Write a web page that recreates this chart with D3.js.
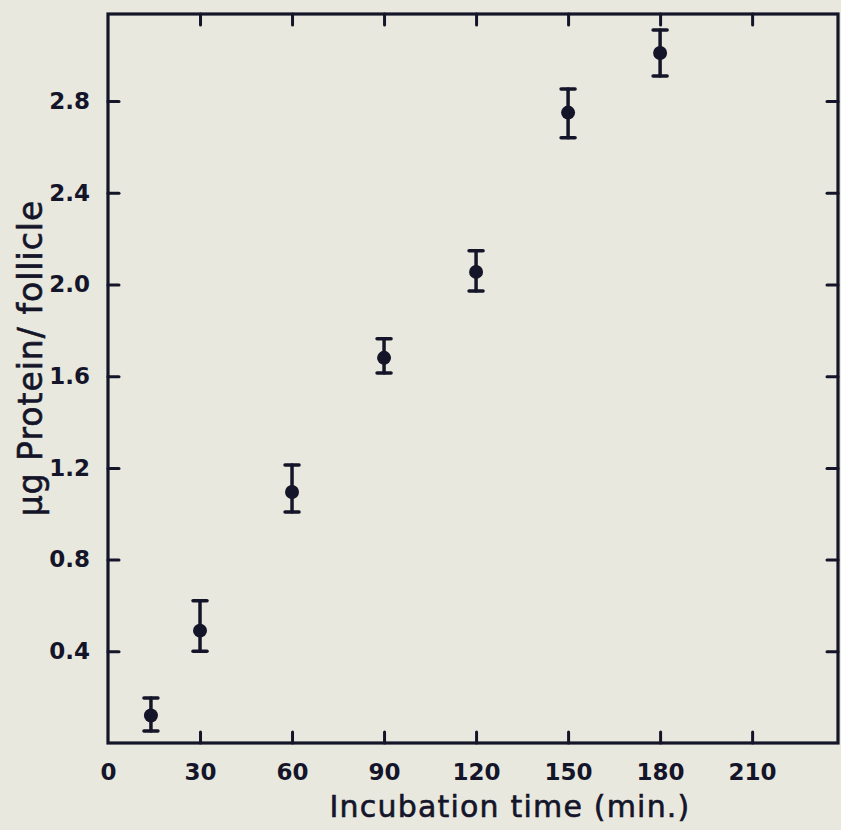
<!DOCTYPE html>
<html>
<head>
<meta charset="utf-8">
<script src="https://cdn.jsdelivr.net/npm/d3@7"></script>
<style>
  html, body { margin: 0; padding: 0; background: #e9e8df; }
  svg { display: block; }
  text { font-family: "DejaVu Sans", sans-serif; fill: #15152a; }
</style>
</head>
<body>
<svg id="chart" width="841" height="830"></svg>
<script>
// ---- data ----
const times     = [14, 30, 60, 90, 120, 150, 180];
const protein   = [0.12, 0.49, 1.095, 1.68, 2.055, 2.75, 3.01];
const errUpper  = [0.196, 0.62, 1.213, 1.763, 2.147, 2.853, 3.11];
const errLower  = [0.052, 0.40, 1.008, 1.614, 1.972, 2.64, 2.91];
const xTicks    = [0, 30, 60, 90, 120, 150, 180, 210];
const yTicks    = [0.4, 0.8, 1.2, 1.6, 2.0, 2.4, 2.8];
const xTitle    = "Incubation time (min.)";
const yTitle    = "\u03BCg Protein/ follicle";

const ink = "#15152a";
const svg = d3.select("#chart");
const pL = 108, pR = 838, pT = 14, pB = 743;
const x = d3.scaleLinear().domain([0, 238]).range([pL, pR]);
const y = d3.scaleLinear().domain([0, 3.18]).range([pB, pT]);

// frame
svg.append("rect")
  .attr("x", pL).attr("y", pT)
  .attr("width", pR - pL).attr("height", pB - pT)
  .attr("fill", "none").attr("stroke", ink).attr("stroke-width", 3.2);

function styleAxis(g) {
  g.select(".domain").remove();
  g.selectAll(".tick line").attr("stroke", ink).attr("stroke-width", 3).attr("stroke-linecap", "round");
  g.selectAll(".tick text").attr("fill", ink)
    .style("font-family", "DejaVu Sans, sans-serif")
    .style("font-weight", "bold").style("font-size", "23px");
}

// bottom axis (ticks inward)
const gx = svg.append("g").attr("transform", `translate(0,${pB})`)
  .call(d3.axisBottom(x).tickValues(xTicks).tickSizeInner(-11).tickSizeOuter(0).tickPadding(21).tickFormat(d3.format("d")));
styleAxis(gx);
gx.selectAll(".tick").filter(d => d === 0).select("line").remove();

// top axis ticks (inward)
const gt = svg.append("g").attr("transform", `translate(0,${pT})`)
  .call(d3.axisTop(x).tickValues(xTicks.filter(d => d > 0)).tickSizeInner(-11).tickSizeOuter(0).tickFormat(""));
styleAxis(gt);

// left axis
const gy = svg.append("g").attr("transform", `translate(${pL},0)`)
  .call(d3.axisLeft(y).tickValues(yTicks).tickSizeInner(-11).tickSizeOuter(0).tickPadding(18).tickFormat(d3.format(".1f")));
styleAxis(gy);

// right axis ticks
const gr = svg.append("g").attr("transform", `translate(${pR},0)`)
  .call(d3.axisRight(y).tickValues(yTicks).tickSizeInner(-11).tickSizeOuter(0).tickFormat(""));
styleAxis(gr);

// error bars
const pts = times.map((t, i) => ({t, v: protein[i], hi: errUpper[i], lo: errLower[i]}));
const eb = svg.append("g").attr("stroke", ink).attr("stroke-width", 3.5).attr("stroke-linecap", "round");
eb.selectAll("line.v").data(pts).join("line").attr("class", "v")
  .attr("x1", d => x(d.t)).attr("x2", d => x(d.t))
  .attr("y1", d => y(d.hi)).attr("y2", d => y(d.lo));
eb.selectAll("line.cu").data(pts).join("line").attr("class", "cu")
  .attr("x1", d => x(d.t) - 7).attr("x2", d => x(d.t) + 7)
  .attr("y1", d => y(d.hi)).attr("y2", d => y(d.hi));
eb.selectAll("line.cl").data(pts).join("line").attr("class", "cl")
  .attr("x1", d => x(d.t) - 7).attr("x2", d => x(d.t) + 7)
  .attr("y1", d => y(d.lo)).attr("y2", d => y(d.lo));

// points
svg.append("g").selectAll("circle").data(pts).join("circle")
  .attr("cx", d => x(d.t)).attr("cy", d => y(d.v)).attr("r", 7)
  .attr("fill", ink);

// titles
svg.append("text")
  .attr("x", 510).attr("y", 817)
  .attr("text-anchor", "middle").style("font-size", "30px")
  .style("letter-spacing", "1.2px")
  .attr("stroke", ink).attr("stroke-width", 0.6)
  .text(xTitle);
svg.append("text")
  .attr("transform", `translate(42,358) rotate(-90)`)
  .attr("text-anchor", "middle").style("font-size", "33px")
  .style("letter-spacing", "1px")
  .attr("stroke", ink).attr("stroke-width", 0.6)
  .text(yTitle);
</script>
</body>
</html>
